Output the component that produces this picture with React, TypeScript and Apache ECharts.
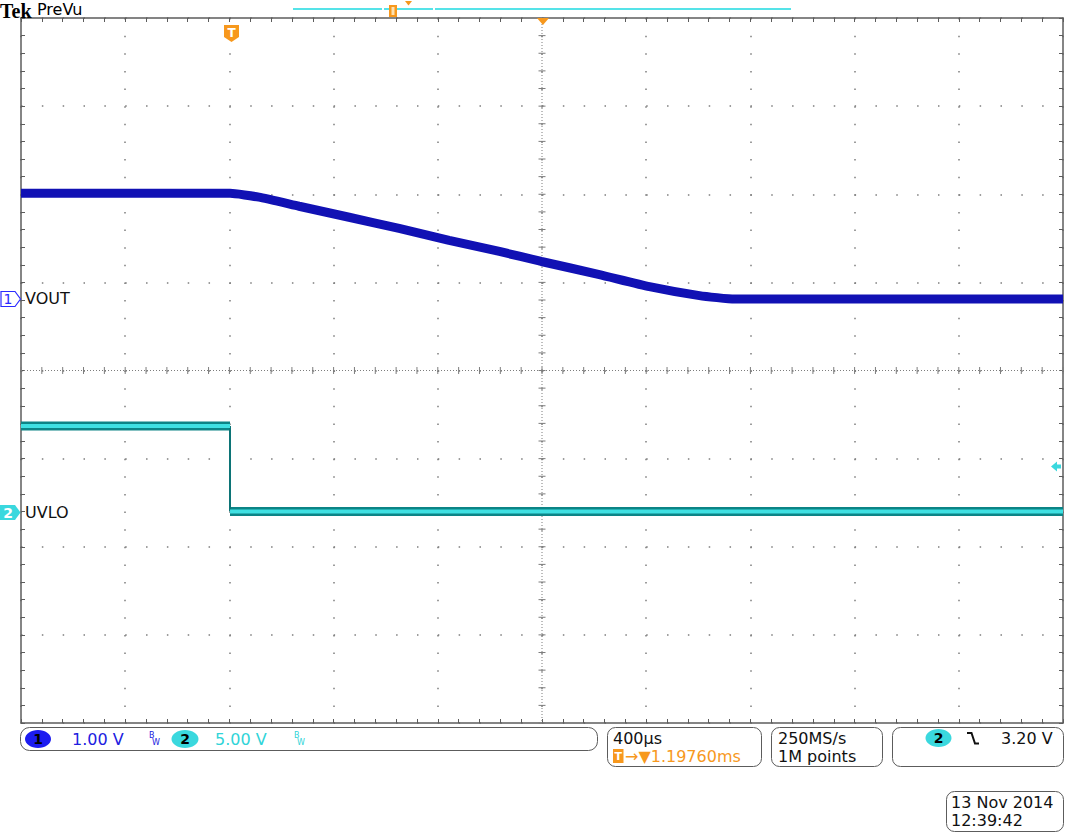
import React, { useEffect, useRef } from "react";
import * as echarts from "echarts";

// ---- scope settings ----
const X_DIVS = 10;
const Y_DIVS = 8;
const TIME_PER_DIV_MS = 0.4; // 400 µs/div
const DELAY_MS = 1.1976; // trigger -> centre
const CH1_VOLTS_PER_DIV = 1.0;
const CH2_VOLTS_PER_DIV = 5.0;
const CH1_OFFSET_DIV = 0.81;
const CH2_OFFSET_DIV = -1.61;

// ---- channel 1 : VOUT (time in ms relative to trigger, volts) ----
const voutTimeMs = [-0.8024, 0.0, 0.111, 0.265, 0.457, 0.649, 0.841, 1.034, 1.195, 1.418, 1.61, 1.802, 1.937, 3.1976];
const voutVolts = [1.2, 1.2, 1.157, 1.054, 0.929, 0.803, 0.667, 0.541, 0.427, 0.279, 0.142, 0.04, 0.0, 0.0];

// ---- channel 2 : UVLO ----
const uvloTimeMs = [-0.8024, 0.0, 0.0, 3.1976];
const uvloVolts = [4.9, 4.9, 0.05, 0.05];

// ---- readouts ----
const ch1Scale = "1.00 V";
const ch2Scale = "5.00 V";
const timebase = "400µs";
const delayText = "→▼1.19760ms";
const sampleRate = "250MS/s";
const recordLength = "1M points";
const trigLevel = "3.20 V";
const dateText = "13 Nov 2014";
const timeText = "12:39:42";

const leftEdgeMs = DELAY_MS - (X_DIVS / 2) * TIME_PER_DIV_MS;
const toX = (t: number) => (t - leftEdgeMs) / TIME_PER_DIV_MS;
const toY1 = (v: number) => v / CH1_VOLTS_PER_DIV + CH1_OFFSET_DIV;
const toY2 = (v: number) => v / CH2_VOLTS_PER_DIV + CH2_OFFSET_DIV;

const FONT = '"DejaVu Sans", Verdana, sans-serif';
const ORANGE = "#f7981d";
const CYAN = "#3ad8de";
const BLUE = "#1c1cf0";
const FRAME = "#5c5c5c";
const DOT = "#7d7d7d";

function buildUvlo() {
  const thick: any[] = [];
  const thin: any[] = [];
  for (let i = 0; i < uvloTimeMs.length - 1; i++) {
    const a = [toX(uvloTimeMs[i]), toY2(uvloVolts[i])];
    const b = [toX(uvloTimeMs[i + 1]), toY2(uvloVolts[i + 1])];
    if (uvloTimeMs[i] === uvloTimeMs[i + 1]) {
      thin.push(a, b, "-");
    } else {
      thick.push(a, b, "-");
    }
  }
  return { thick, thin };
}

export default function App() {
  const ref = useRef<HTMLDivElement>(null);

  useEffect(() => {
    if (!ref.current) return;
    const chart = echarts.init(ref.current, undefined, { renderer: "svg" });

    const gridLeft = 21;
    const gridTop = 18;
    const gridW = 1042;
    const gridH = 705;
    const minorY = gridH / (Y_DIVS * 5);
    const minorX = gridW / (X_DIVS * 5);

    const frameAxis = (extra: any) => ({
      type: "value",
      axisLine: { show: true, onZero: false, lineStyle: { color: FRAME, width: 1.5 } },
      axisTick: { show: true, inside: true, length: 4, lineStyle: { color: FRAME, width: 1 } },
      minorTick: { show: true, splitNumber: 5, length: 4, lineStyle: { color: FRAME, width: 1 } },
      axisLabel: { show: false },
      splitLine: { show: false },
      ...extra,
    });

    const uv = buildUvlo();
    const vout = voutTimeMs.map((t, i) => [toX(t), toY1(voutVolts[i])]);

    const text = (t: string, x: number, y: number, fill: string, size = 16, extra: any = {}) => ({
      type: "text",
      x,
      y,
      z: 100,
      style: { text: t, fill, font: `${size}px ${FONT}`, textAlign: "left", textVerticalAlign: "middle", ...extra },
    });

    const graphic: any[] = [
      // header
      { type: "text", x: 0, y: 10.5, z: 100, style: { text: "Tek", fill: "#000", font: 'bold 20px "Liberation Serif", serif', textVerticalAlign: "middle" } },
      text("PreVu", 37, 9.5, "#000", 16),
      { type: "line", z: 100, shape: { x1: 293, y1: 9, x2: 382, y2: 9 }, style: { stroke: "#55e3e8", lineWidth: 2 } },
      { type: "line", z: 100, shape: { x1: 384, y1: 9, x2: 433, y2: 9 }, style: { stroke: "#55e3e8", lineWidth: 2 } },
      { type: "line", z: 100, shape: { x1: 435, y1: 9, x2: 791, y2: 9 }, style: { stroke: "#55e3e8", lineWidth: 2 } },
      { type: "rect", z: 101, shape: { x: 389, y: 5, width: 8, height: 12 }, style: { fill: ORANGE } },
      { type: "rect", z: 102, shape: { x: 391.5, y: 7, width: 3, height: 8 }, style: { fill: "#fde1b0" } },
      { type: "polygon", z: 101, shape: { points: [[405, 1], [412, 1], [408.5, 5.5]] }, style: { fill: ORANGE } },
      // centre trigger position marker on top border
      { type: "polygon", z: 101, shape: { points: [[537, 18], [549, 18], [543, 25]] }, style: { fill: ORANGE } },
      // trigger 'T' shield
      { type: "polygon", z: 101, shape: { points: [[224, 25], [239, 25], [239, 37], [231.5, 42], [224, 37]] }, style: { fill: ORANGE } },
      { type: "text", x: 231.5, y: 33, z: 102, style: { text: "T", fill: "#fff", font: `bold 12px ${FONT}`, textAlign: "center", textVerticalAlign: "middle" } },
      // channel 1 marker
      { type: "polygon", z: 101, shape: { points: [[1, 291.5], [15, 291.5], [20.5, 299], [15, 306.5], [1, 306.5]] }, style: { fill: "#fff", stroke: "#2b2bff", lineWidth: 1.2 } },
      { type: "text", x: 8, y: 299, z: 102, style: { text: "1", fill: "#2b2bff", font: `14px ${FONT}`, textAlign: "center", textVerticalAlign: "middle" } },
      text("VOUT", 25, 298.5, "#111", 16),
      // channel 2 marker
      { type: "polygon", z: 101, shape: { points: [[0, 505], [15, 505], [20.5, 512.5], [15, 520], [0, 520]] }, style: { fill: CYAN } },
      { type: "text", x: 8, y: 512.5, z: 102, style: { text: "2", fill: "#fff", font: `bold 14px ${FONT}`, textAlign: "center", textVerticalAlign: "middle" } },
      text("UVLO", 25, 512, "#111", 16),
      // trigger level arrow (right)
      { type: "polygon", z: 101, shape: { points: [[1051, 466.5], [1057, 461.5], [1057, 464.5], [1061, 464.5], [1061, 468.5], [1057, 468.5], [1057, 471.5]] }, style: { fill: CYAN } },

      // bottom readout 1
      { type: "rect", z: 100, shape: { x: 20.5, y: 727.5, width: 577, height: 23, r: 9 }, style: { fill: "#fff", stroke: FRAME, lineWidth: 1 } },
      { type: "ellipse", z: 101, shape: { cx: 38, cy: 739, rx: 13, ry: 9 }, style: { fill: BLUE } },
      { type: "text", x: 38, y: 739, z: 102, style: { text: "1", fill: "#000", font: `bold 14px ${FONT}`, textAlign: "center", textVerticalAlign: "middle" } },
      text(ch1Scale, 72, 739, "#2020e0", 16),
      text("B", 149, 735.5, "#2020e0", 8),
      text("W", 152, 742.5, "#2020e0", 8),
      { type: "ellipse", z: 101, shape: { cx: 185, cy: 739, rx: 13.5, ry: 9 }, style: { fill: CYAN } },
      { type: "text", x: 185, y: 739, z: 102, style: { text: "2", fill: "#000", font: `bold 14px ${FONT}`, textAlign: "center", textVerticalAlign: "middle" } },
      text(ch2Scale, 215, 739, "#30d4d8", 16),
      text("B", 294, 735.5, "#30d4d8", 8),
      text("W", 297, 742.5, "#30d4d8", 8),

      // bottom readout 2
      { type: "rect", z: 100, shape: { x: 607.5, y: 727.5, width: 154, height: 39, r: 8 }, style: { fill: "#fff", stroke: FRAME, lineWidth: 1 } },
      text(timebase, 613, 738, "#111", 16),
      { type: "rect", z: 101, shape: { x: 613, y: 749, width: 10.5, height: 14 }, style: { fill: ORANGE } },
      { type: "text", x: 618.3, y: 756, z: 102, style: { text: "T", fill: "#fff", font: `bold 11px ${FONT}`, textAlign: "center", textVerticalAlign: "middle" } },
      text(delayText, 625, 756, ORANGE, 16),

      // bottom readout 3
      { type: "rect", z: 100, shape: { x: 771.5, y: 727.5, width: 111, height: 39, r: 8 }, style: { fill: "#fff", stroke: FRAME, lineWidth: 1 } },
      text(sampleRate, 778, 738, "#111", 16),
      text(recordLength, 778, 756, "#111", 16),

      // bottom readout 4
      { type: "rect", z: 100, shape: { x: 892.5, y: 727.5, width: 171, height: 39, r: 8 }, style: { fill: "#fff", stroke: FRAME, lineWidth: 1 } },
      { type: "ellipse", z: 101, shape: { cx: 938.5, cy: 738, rx: 13, ry: 9 }, style: { fill: CYAN } },
      { type: "text", x: 938.5, y: 738, z: 102, style: { text: "2", fill: "#000", font: `bold 14px ${FONT}`, textAlign: "center", textVerticalAlign: "middle" } },
      { type: "polyline", z: 101, shape: { points: [[967, 733], [971.5, 733], [975, 743.5], [979, 743.5]] }, style: { stroke: "#111", lineWidth: 2, fill: null } },
      text(trigLevel, 1001, 738, "#111", 16),

      // date box
      { type: "rect", z: 100, shape: { x: 946.5, y: 791.5, width: 117, height: 40, r: 8 }, style: { fill: "#fff", stroke: FRAME, lineWidth: 1 } },
      text(dateText, 951, 802, "#111", 16),
      text(timeText, 951, 820.5, "#111", 16),
    ];

    const option: any = {
      animation: false,
      backgroundColor: "#ffffff",
      grid: { left: gridLeft, top: gridTop, width: gridW, height: gridH, containLabel: false },
      xAxis: [
        frameAxis({
          min: 0, max: X_DIVS, interval: 1, position: "bottom",
          splitLine: { show: true, lineStyle: { color: DOT, width: 1.5, type: [1.5, minorY - 1.5] } },
        }),
        frameAxis({ min: 0, max: X_DIVS, interval: 1, position: "top" }),
      ],
      yAxis: [
        frameAxis({
          min: -Y_DIVS / 2, max: Y_DIVS / 2, interval: 1, position: "left",
          splitLine: { show: true, lineStyle: { color: DOT, width: 1.5, type: [1.5, minorX - 1.5] } },
        }),
        frameAxis({ min: -Y_DIVS / 2, max: Y_DIVS / 2, interval: 1, position: "right" }),
      ],
      graphic,
      series: [
        {
          type: "custom",
          name: "reticle",
          silent: true,
          z: 1,
          xAxisIndex: 0,
          yAxisIndex: 0,
          data: [[0, 0]],
          renderItem: (_p: any, api: any) => {
            const children: any[] = [];
            const c = api.coord([X_DIVS / 2, 0]);
            const l = api.coord([0, 0]);
            const r = api.coord([X_DIVS, 0]);
            const t = api.coord([X_DIVS / 2, Y_DIVS / 2]);
            const b = api.coord([X_DIVS / 2, -Y_DIVS / 2]);
            children.push({ type: "line", shape: { x1: l[0], y1: c[1], x2: r[0], y2: c[1] }, style: { stroke: DOT, lineWidth: 1, lineDash: [1, 2] } });
            children.push({ type: "line", shape: { x1: c[0], y1: t[1], x2: c[0], y2: b[1] }, style: { stroke: DOT, lineWidth: 1, lineDash: [1, 2] } });
            for (let i = 0; i <= X_DIVS * 5; i++) {
              const p = api.coord([i / 5, 0]);
              children.push({ type: "line", shape: { x1: p[0], y1: p[1] - 3.5, x2: p[0], y2: p[1] + 3.5 }, style: { stroke: DOT, lineWidth: 1 } });
            }
            for (let j = 0; j <= Y_DIVS * 5; j++) {
              const p = api.coord([X_DIVS / 2, -Y_DIVS / 2 + j / 5]);
              children.push({ type: "line", shape: { x1: p[0] - 3.5, y1: p[1], x2: p[0] + 3.5, y2: p[1] }, style: { stroke: DOT, lineWidth: 1 } });
            }
            return { type: "group", children };
          },
        },
        {
          type: "line",
          name: "UVLO",
          data: uv.thick,
          showSymbol: false,
          connectNulls: false,
          z: 3,
          lineStyle: { color: "#0c8486", width: 9 },
        },
        {
          type: "line",
          name: "UVLO core",
          data: uv.thick,
          showSymbol: false,
          connectNulls: false,
          z: 4,
          lineStyle: { color: "#3fe0e2", width: 4 },
        },
        {
          type: "line",
          name: "UVLO edge",
          data: uv.thin,
          showSymbol: false,
          connectNulls: false,
          z: 3,
          lineStyle: { color: "#0c7476", width: 2 },
        },
        {
          type: "line",
          name: "VOUT",
          data: vout,
          showSymbol: false,
          smooth: 0.15,
          z: 5,
          lineStyle: { color: "#1111b4", width: 9 },
        },
      ],
    };

    chart.setOption(option);
    return () => chart.dispose();
  }, []);

  return (
    <div
      ref={ref}
      style={{ position: "fixed", left: 0, top: 0, width: 1066, height: 833, background: "#fff" }}
    />
  );
}
